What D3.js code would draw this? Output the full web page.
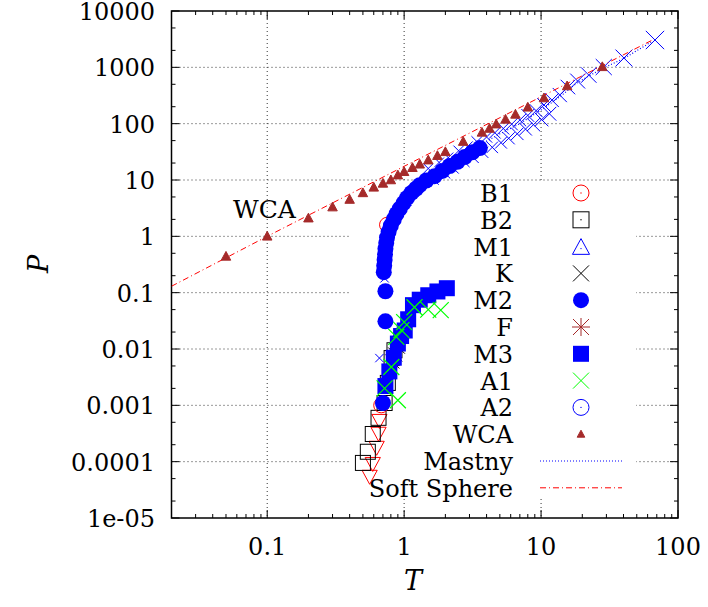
<!DOCTYPE html>
<html>
<head>
<meta charset="utf-8">
<script src="https://cdn.jsdelivr.net/npm/d3@7"></script>
<style>
  body { margin: 0; background: #fff; }
  svg text { font-family: "DejaVu Serif", "Liberation Serif", "Times New Roman", Times, serif; }
</style>
</head>
<body>
<div id="chart"></div>
<script>
// data (T, P)
var xTicks = [0.1, 1, 10, 100];
var yTicks = [1e-5, 1e-4, 1e-3, 1e-2, 0.1, 1, 10, 100, 1000, 10000];
var yTickLabels = ["1e-05", "0.0001", "0.001", "0.01", "0.1", "1", "10", "100", "1000", "10000"];

var softT = [0.02, 0.1, 1, 10, 65];
var softP = [0.13, 1.0, 17.5, 300, 3050];

var wcaT = [0.05, 0.1, 0.2, 0.3, 0.4, 0.5, 0.6, 0.7, 0.8, 0.9, 1.0, 1.15, 1.3, 1.5, 1.75, 2.0, 2.7, 3.7, 4.2, 4.7, 5.5, 6.5, 8, 10.5, 15.5, 28];
var wcaP = [0.44, 1.0, 2.1, 3.3, 4.5, 5.9, 7.4, 8.7, 10, 12.2, 14, 16.5, 19, 22.5, 27, 31.6, 48, 70, 82, 98, 119, 146, 195, 285, 466, 1020];

var mastnyT = [0.72, 0.74, 0.77, 0.82, 0.9, 1.0, 1.1, 1.3, 1.67, 2.15, 2.77, 3.57, 5.0, 7.0, 10, 13.7, 18.5, 22.3, 28.7, 40.3, 65];
var mastnyP = [0.5, 0.8, 1.25, 1.9, 2.9, 4.3, 5.9, 8.8, 13.5, 20, 29, 42, 66, 100, 175, 300, 540, 700, 980, 1440, 2900];

// blue crosses along the upper branch
var crossT = [0.66, 0.72, 0.73, 0.75, 0.8, 0.86, 0.95, 1.05, 1.18, 1.33, 1.5, 1.8, 2.1, 2.5, 2.9, 3.4, 4.0, 4.6, 5.3, 6.1, 7.0, 8.0, 9.2, 10.5, 12, 13.7,
              1.65, 2.0, 2.3, 2.75, 3.2, 3.75, 4.4, 5.1, 5.8, 6.7, 7.7, 8.8, 10.1, 11.5,
              15.7, 18.5, 22.3, 28.7, 40.3, 67.9];
var crossP = [0.0069, 0.18, 0.4, 0.75, 1.3, 2.0, 3.0, 4.2, 6.0, 8.5, 16, 20.5, 25, 33, 39, 48, 58, 69, 82, 98, 116, 140, 170, 215, 262, 322,
              10, 13, 16, 21, 25, 31, 38, 46, 55, 66, 80, 96, 118, 150,
              447, 571, 729, 1012, 1463, 3055];

var m2T = [0.73, 0.73, 0.71, 0.715, 0.72, 0.725, 0.73, 0.74, 0.75, 0.77, 0.8, 0.84, 0.88, 0.93, 0.99, 1.05, 1.13, 1.22, 1.3, 1.45, 1.67, 1.9, 2.15, 2.45, 2.77, 3.15, 3.57, 0.70];
var m2P = [0.031, 0.106, 0.231, 0.3, 0.38, 0.48, 0.6, 0.76, 0.95, 1.2, 1.55, 2.0, 2.5, 3.1, 3.9, 4.8, 5.9, 7.0, 8.1, 9.8, 11.7, 14.5, 17.7, 21, 25.5, 31, 36.9, 0.0011];

var m3T = [0.73, 0.78, 0.84, 0.9, 0.95, 1.01, 1.07, 1.16, 1.3, 1.5, 1.75, 2.05];
var m3P = [0.0022, 0.004, 0.007, 0.0125, 0.017, 0.0213, 0.0337, 0.06, 0.075, 0.09, 0.105, 0.12];

var a1T = [0.72, 0.9, 0.806, 0.877, 0.955, 1.0, 1.19, 1.5, 1.85];
var a1P = [0.002, 0.00123, 0.0048, 0.0164, 0.0216, 0.03, 0.055, 0.05, 0.049];

var b2T = [0.50, 0.543, 0.59, 0.65, 0.72, 0.76, 0.81, 0.85];
var b2P = [9.5e-5, 1.5e-4, 3.1e-4, 6e-4, 1.1e-3, 2.5e-3, 6.9e-3, 9.5e-3];

var kT = [0.78, 0.82, 0.86, 0.9];
var kP = [0.004, 0.006, 0.008, 0.011];

var downT = [0.56, 0.59, 0.63, 0.65, 0.66];
var downP = [5.5e-5, 9.3e-5, 1.8e-4, 3.2e-4, 5.4e-4];

var b1T = [0.68, 0.75];
var b1P = [0.001, 1.6];

var legendNames = ["B1", "B2", "M1", "K", "M2", "F", "M3", "A1", "A2", "WCA", "Mastny", "Soft Sphere"];

var W = 708, H = 607;
var m = { left: 171.5, right: 30, top: 11, bottom: 89 };
var iw = W - m.left - m.right, ih = H - m.top - m.bottom;

var svg = d3.select("#chart").append("svg").attr("width", W).attr("height", H);

var x = d3.scaleLog().domain([0.02, 100]).range([m.left, m.left + iw]);
var y = d3.scaleLog().domain([1e-5, 1e4]).range([m.top + ih, m.top]);

var gridColor = "#333";

// grid
var grid = svg.append("g");
xTicks.forEach(function (t) {
  if (t >= 100) return;
  grid.append("line").attr("x1", x(t)).attr("x2", x(t)).attr("y1", y(1e4)).attr("y2", y(1e-5))
    .attr("stroke", gridColor).attr("stroke-width", 1).attr("stroke-dasharray", "1,3");
});
yTicks.forEach(function (t) {
  if (t <= 1e-5 || t >= 1e4) return;
  grid.append("line").attr("x1", x(0.02)).attr("x2", x(100)).attr("y1", y(t)).attr("y2", y(t))
    .attr("stroke", gridColor).attr("stroke-width", 1).attr("stroke-dasharray", "1,3");
});
// opaque key box hides grid behind it
svg.append("rect").attr("x", 349).attr("y", 183).attr("width", 287).attr("height", 314).attr("fill", "#fff");

// axes with minor ticks, mirrored
var minors = [];
for (var e = -2; e <= 2; e++) for (var k = 1; k < 10; k++) {
  var v = k * Math.pow(10, e);
  if (v >= 0.02 && v <= 100) minors.push(v);
}
var yMinors = [];
for (var e2 = -5; e2 < 4; e2++) [2, 5].forEach(function (k) { yMinors.push(k * Math.pow(10, e2)); });

var ax = svg.append("g").attr("stroke", "#000").attr("stroke-width", 1);
minors.forEach(function (v) {
  var len = xTicks.indexOf(v) >= 0 ? 8 : 4;
  ax.append("line").attr("x1", x(v)).attr("x2", x(v)).attr("y1", y(1e-5)).attr("y2", y(1e-5) - len);
  ax.append("line").attr("x1", x(v)).attr("x2", x(v)).attr("y1", y(1e4)).attr("y2", y(1e4) + len);
});
yTicks.concat(yMinors).forEach(function (v) {
  var len = yTicks.indexOf(v) >= 0 ? 8 : 4;
  ax.append("line").attr("x1", x(0.02)).attr("x2", x(0.02) + len).attr("y1", y(v)).attr("y2", y(v));
  ax.append("line").attr("x1", x(100)).attr("x2", x(100) - len).attr("y1", y(v)).attr("y2", y(v));
});
svg.append("rect").attr("x", x(0.02)).attr("y", y(1e4)).attr("width", iw).attr("height", ih)
  .attr("fill", "none").attr("stroke", "#000").attr("stroke-width", 1.5);

svg.selectAll(".xl").data(xTicks).enter().append("text")
  .attr("x", function (d) { return x(d); }).attr("y", 555)
  .attr("text-anchor", "middle").attr("font-size", 24).text(function (d) { return d; });
svg.selectAll(".yl").data(yTicks).enter().append("text")
  .attr("x", 155).attr("y", function (d) { return y(d) + 9; })
  .attr("text-anchor", "end").attr("font-size", 24).text(function (d, i) { return yTickLabels[i]; });

svg.append("text").attr("x", 413).attr("y", 590).attr("text-anchor", "middle")
  .attr("font-size", 27).attr("font-style", "italic").text("T");
svg.append("text").attr("transform", "translate(48,264) rotate(-90)").attr("text-anchor", "middle")
  .attr("font-size", 27).attr("font-style", "italic").text("P");

svg.append("text").attr("x", 233).attr("y", 218).attr("font-size", 25).text("WCA");

// clip for data
svg.append("clipPath").attr("id", "clip").append("rect")
  .attr("x", m.left).attr("y", m.top).attr("width", iw).attr("height", ih);
var plot = svg.append("g").attr("clip-path", "url(#clip)");

function pts(T, P) { return T.map(function (t, i) { return [t, P[i]]; }); }
var line = d3.line().x(function (d) { return x(d[0]); }).y(function (d) { return y(d[1]); });

function cross(g, cx, cy, s, color, w) {
  g.append("path").attr("d", "M" + (cx - s) + "," + (cy - s) + "L" + (cx + s) + "," + (cy + s) +
    "M" + (cx - s) + "," + (cy + s) + "L" + (cx + s) + "," + (cy - s))
    .attr("stroke", color).attr("stroke-width", w || 1).attr("fill", "none");
}
function tri(g, cx, cy, s, down, fill, stroke) {
  var d = down ? -1 : 1;
  g.append("path").attr("d", "M" + cx + "," + (cy - d * s) + "L" + (cx + s * 0.95) + "," + (cy + d * s * 0.75) +
    "L" + (cx - s * 0.95) + "," + (cy + d * s * 0.75) + "Z")
    .attr("fill", fill).attr("stroke", stroke).attr("stroke-width", 1);
}

// lower branch
pts(downT, downP).forEach(function (d) { tri(plot, x(d[0]), y(d[1]), 8, true, "none", "#f00"); });
pts(b2T, b2P).forEach(function (d) {
  plot.append("rect").attr("x", x(d[0]) - 7.5).attr("y", y(d[1]) - 7.5).attr("width", 15).attr("height", 15)
    .attr("fill", "none").attr("stroke", "#000").attr("stroke-width", 1);
});
pts(b1T, b1P).forEach(function (d) {
  plot.append("circle").attr("cx", x(d[0])).attr("cy", y(d[1])).attr("r", 7.5)
    .attr("fill", "none").attr("stroke", "#f00");
});
pts(kT, kP).forEach(function (d) { cross(plot, x(d[0]), y(d[1]), 7, "#000"); });

// Mastny curve
plot.append("path").datum(pts(mastnyT, mastnyP)).attr("d", line)
  .attr("fill", "none").attr("stroke", "#00f").attr("stroke-width", 1.2).attr("stroke-dasharray", "1,2");

pts(crossT, crossP).forEach(function (d) {
  var s = 2.5 + 2.2 * Math.log10(d[0] + 1);
  cross(plot, x(d[0]), y(d[1]), s * 1.4, "#00f", 1);
});
pts(m2T, m2P).forEach(function (d) {
  plot.append("circle").attr("cx", x(d[0])).attr("cy", y(d[1])).attr("r", 8).attr("fill", "#00f");
});
pts(m3T, m3P).forEach(function (d) {
  plot.append("rect").attr("x", x(d[0]) - 8).attr("y", y(d[1]) - 8).attr("width", 16).attr("height", 16).attr("fill", "#00f");
});
pts(a1T, a1P).forEach(function (d) { cross(plot, x(d[0]), y(d[1]), 8, "#0f0", 1.2); });

// soft sphere line
plot.append("path").datum(pts(softT, softP)).attr("d", line)
  .attr("fill", "none").attr("stroke", "#f00").attr("stroke-width", 1).attr("stroke-dasharray", "6,3,1,3");

// WCA triangles
pts(wcaT, wcaP).forEach(function (d) { tri(plot, x(d[0]), y(d[1]), 5, false, "#a52a2a", "#a52a2a"); });

// legend
var lx = 513, sx = 581, ly0 = 193, dy = 26.8;
var leg = svg.append("g");
legendNames.forEach(function (name, i) {
  var cy = ly0 + i * dy;
  leg.append("text").attr("x", lx).attr("y", cy + 9).attr("text-anchor", "end").attr("font-size", 24).text(name);
});
var lg = function (i) { return ly0 + i * dy; };
leg.append("circle").attr("cx", sx).attr("cy", lg(0)).attr("r", 8).attr("fill", "none").attr("stroke", "#f00");
leg.append("circle").attr("cx", sx).attr("cy", lg(0)).attr("r", 0.7).attr("fill", "#f00");
leg.append("rect").attr("x", sx - 8).attr("y", lg(1) - 8).attr("width", 16).attr("height", 16).attr("fill", "none").attr("stroke", "#000");
leg.append("circle").attr("cx", sx).attr("cy", lg(1)).attr("r", 0.7).attr("fill", "#000");
tri(leg, sx, lg(2) + 1, 9, false, "none", "#00f");
leg.append("circle").attr("cx", sx).attr("cy", lg(2) + 2).attr("r", 0.7).attr("fill", "#00f");
cross(leg, sx, lg(3), 8, "#000");
leg.append("circle").attr("cx", sx).attr("cy", lg(4)).attr("r", 8).attr("fill", "#00f");
cross(leg, sx, lg(5), 8, "#a52a2a");
leg.append("path").attr("d", "M" + (sx - 9) + "," + lg(5) + "H" + (sx + 9) + "M" + sx + "," + (lg(5) - 9) + "V" + (lg(5) + 9))
  .attr("stroke", "#a52a2a");
leg.append("rect").attr("x", sx - 8).attr("y", lg(6) - 8).attr("width", 16).attr("height", 16).attr("fill", "#00f");
cross(leg, sx, lg(7), 8, "#0f0");
leg.append("circle").attr("cx", sx).attr("cy", lg(8)).attr("r", 8).attr("fill", "none").attr("stroke", "#00f");
leg.append("circle").attr("cx", sx).attr("cy", lg(8)).attr("r", 0.7).attr("fill", "#00f");
tri(leg, sx, lg(9), 4, false, "#a52a2a", "#a52a2a");
leg.append("line").attr("x1", 540).attr("x2", 622).attr("y1", lg(10)).attr("y2", lg(10))
  .attr("stroke", "#00f").attr("stroke-width", 1.2).attr("stroke-dasharray", "1,2");
leg.append("line").attr("x1", 540).attr("x2", 622).attr("y1", lg(11)).attr("y2", lg(11))
  .attr("stroke", "#f00").attr("stroke-width", 1).attr("stroke-dasharray", "6,3,1,3");
</script>
</body>
</html>
